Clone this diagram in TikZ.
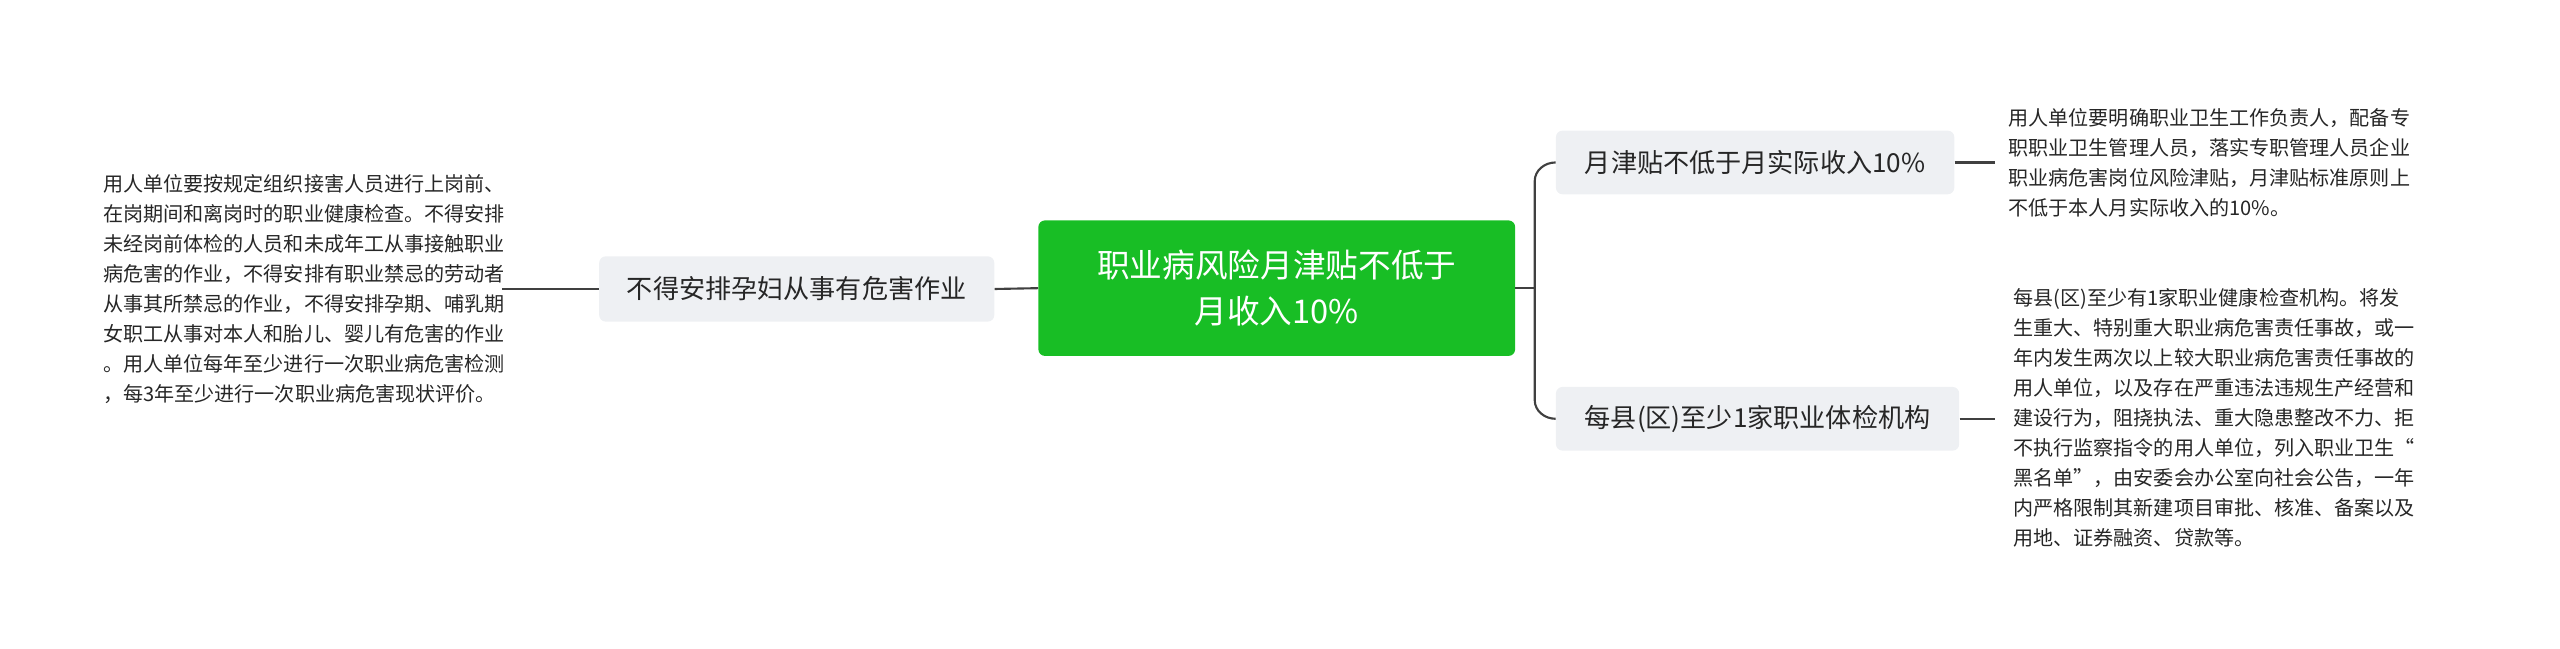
\documentclass[tikz,border=0pt]{standalone}
\usepackage{fontspec}
\setmainfont{Noto Sans CJK SC}
\begin{document}
\begin{tikzpicture}[x=1pt,y=-1pt,
  sub/.style={fill=subg,rounded corners=4pt,inner sep=0pt,font=\fontsize{16}{19}\selectfont,text=black!85},
  txt/.style={align=left,inner sep=0pt,font=\fontsize{12.3}{18.4}\selectfont,text=black!85,anchor=west},
  ln/.style={draw=black!75,line width=1.3pt}]
\definecolor{subg}{HTML}{EEF0F3}
\definecolor{cg}{HTML}{18BE25}
\useasboundingbox (0,0) rectangle (1568,397);
\node[fill=cg,rounded corners=4pt,minimum width=292pt,minimum height=83pt,align=center,text=white,font=\fontsize{20}{28}\selectfont] (c) at (782,176.5) {职业病风险月津贴不低于\\月收入10\%};
\node[sub,minimum width=242pt,minimum height=40pt] (l) at (488,177) {不得安排孕妇从事有危害作业};
\node[sub,minimum width=244pt,minimum height=39pt] (r1) at (1075,99.5) {月津贴不低于月实际收入10\%};
\node[sub,minimum width=247pt,minimum height=39pt] (r2) at (1076.5,256.5) {每县(区)至少1家职业体检机构};
\node[txt] (lt) at (63,177) {用人单位要按规定组织接害人员进行上岗前、\\在岗期间和离岗时的职业健康检查。不得安排\\未经岗前体检的人员和未成年工从事接触职业\\病危害的作业，不得安排有职业禁忌的劳动者\\从事其所禁忌的作业，不得安排孕期、哺乳期\\女职工从事对本人和胎儿、婴儿有危害的作业\\。用人单位每年至少进行一次职业病危害检测\\，每3年至少进行一次职业病危害现状评价。};
\node[txt] (rt1) at (1230,99.5) {用人单位要明确职业卫生工作负责人，配备专\\职职业卫生管理人员，落实专职管理人员企业\\职业病危害岗位风险津贴，月津贴标准原则上\\不低于本人月实际收入的10\%。};
\node[txt] (rt2) at (1233,256) {每县(区)至少有1家职业健康检查机构。将发\\生重大、特别重大职业病危害责任事故，或一\\年内发生两次以上较大职业病危害责任事故的\\用人单位，以及存在严重违法违规生产经营和\\建设行为，阻挠执法、重大隐患整改不力、拒\\不执行监察指令的用人单位，列入职业卫生“\\黑名单”，由安委会办公室向社会公告，一年\\内严格限制其新建项目审批、核准、备案以及\\用地、证券融资、贷款等。};
\coordinate (j) at (940,176.5);
\draw[ln] (c.west) -- (l.east);
\draw[ln] (l.west) -- ([xshift=-2pt]lt.east|-l.west);
\draw[ln] (c.east) -- (j);
\draw[ln] (j) -- (940,111) to[out=90,in=180] (r1.west);
\draw[ln] (j) -- (940,245) to[out=-90,in=180] (r2.west);
\draw[ln] (r1.east) -- (1222,99.5);
\draw[ln] (r2.east) -- (1222,256.5);
\end{tikzpicture}
\end{document}
